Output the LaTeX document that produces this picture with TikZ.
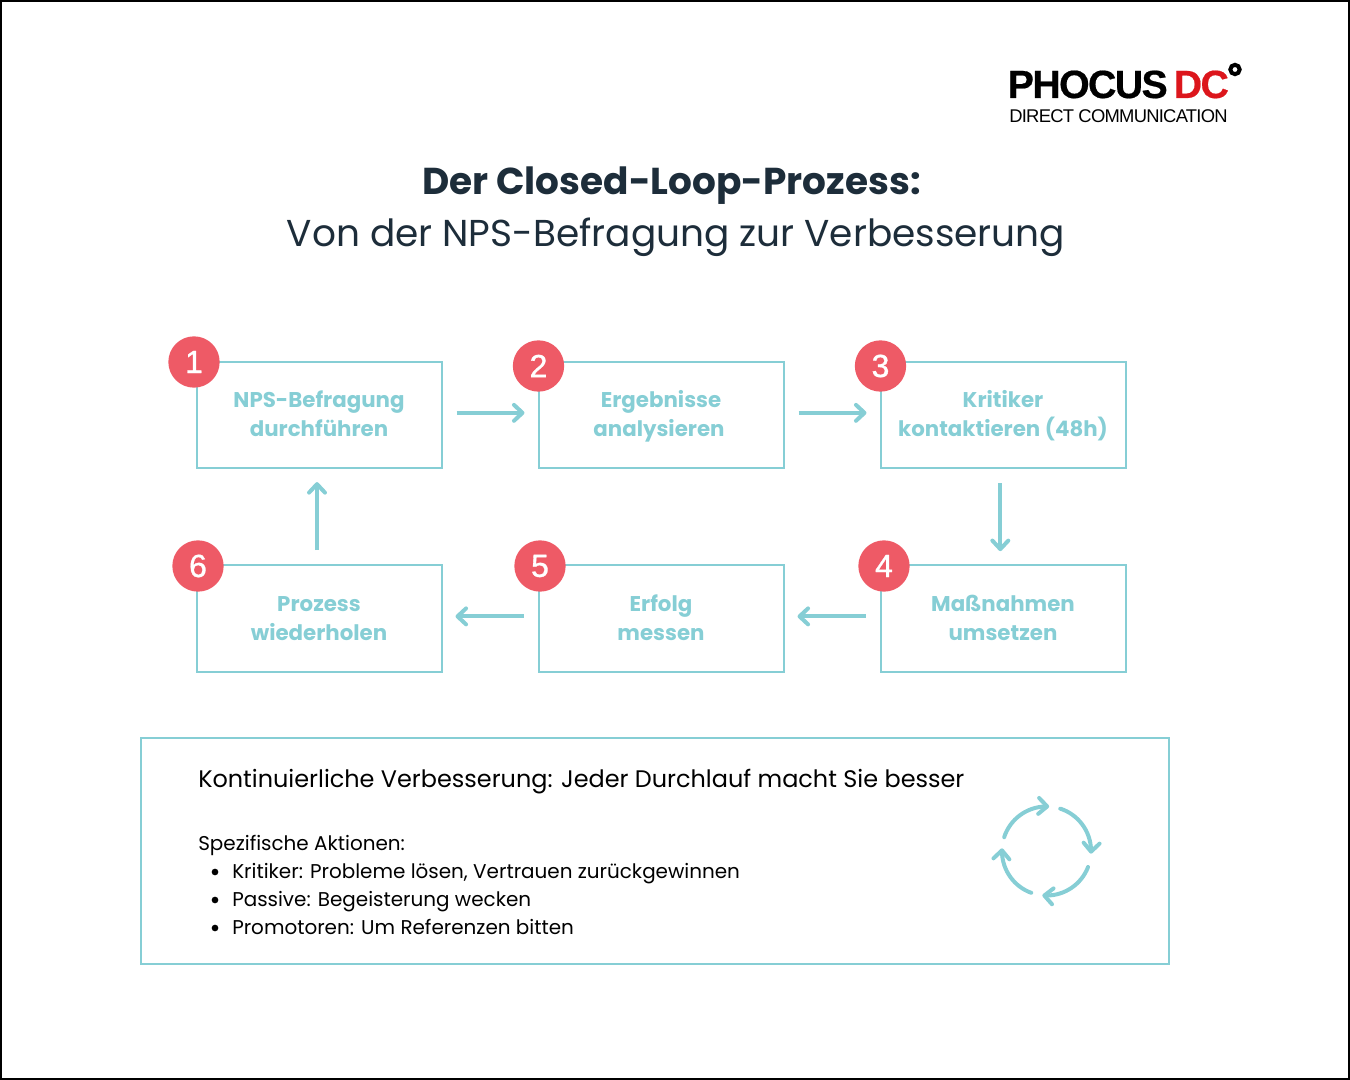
\documentclass[tikz,border=0pt]{standalone}
\usepackage{fontspec}
\setmainfont{Poppins}
\newfontfamily\logofont[LetterSpace=-4.2, BoldFeatures={FakeBold=0.5}]{Liberation Sans}
\newfontfamily\logosubfont[LetterSpace=-4.0]{Liberation Sans}
\newfontfamily\badgefont[FakeBold=1]{Liberation Sans}
\usepackage{tikz}
\usetikzlibrary{calc, positioning}
\usetikzlibrary{arrows.meta, bending}
\tikzset{>={Straight Barb[length=2.25mm,width=4.2mm,line width=3pt,round]}}
\definecolor{loopColor}{RGB}{134, 206, 213}
\definecolor{badgeColor}{RGB}{238, 90, 102}
\definecolor{titleColor}{RGB}{29, 45, 58}
\definecolor{logoRed}{RGB}{220, 22, 28}

\begin{document}
\begin{tikzpicture}[
    x=0.75pt, y=-0.75pt,
    node distance = 72.75pt,
    box/.style = {draw=loopColor, line width=1.5pt, minimum width=183.75pt, minimum height=79.9pt,
        align=center, text=loopColor, font=\fontsize{16}{21.75}\selectfont\bfseries,
        text height=39pt, text depth=6pt,
        outer sep=0pt, inner sep=0pt},
    badge/.style = {circle, fill=badgeColor, text=white, minimum size=38.5pt, inner sep=0pt,
        font=\badgefont\fontsize{24}{24}\selectfont},
    flow/.style = {->, draw=loopColor, line width=3pt, shorten >=10.5pt, shorten <=11.25pt},
    infotext/.style = {anchor=base west, inner sep=0pt, font=\fontsize{14.95}{15}\selectfont},
    cycle/.style = {->, draw=loopColor, line width=3pt, line cap=round, shorten >=1.5pt}
  ]
  \useasboundingbox (0,0) rectangle (1350,1080);
  \draw[line width=2.2pt] (1,1) rectangle (1349,1079);

  % logo
  \node[anchor=base west, inner sep=0pt, font=\logofont\fontsize{29.5}{29.5}\selectfont\bfseries] (LOGO) at (1007.5,98)
    {PHOCUS\hspace{-2.5pt} \textcolor{logoRed}{DC}};
  \node[anchor=base west, inner sep=0pt, font=\logosubfont\fontsize{13.8}{13.8}\selectfont] (SUB) at (1009,122.5)
    {DIRECT COMMUNICATION};
  \node[circle, draw=black, line width=3pt, minimum size=7pt, inner sep=0pt] (RING) at (1235,69.5) {};

  % title
  \node[anchor=base, inner sep=0pt, text=titleColor, font=\fontsize{28.08}{28}\selectfont\bfseries] (TITLE) at (671.5,195)
    {Der Closed-Loop-Prozess:};
  \node[anchor=base, inner sep=0pt, text=titleColor, font=\fontsize{28.08}{28}\selectfont] (SUBTITLE) at (676,247)
    {Von der NPS-Befragung zur Verbesserung};

  % process boxes
  \node[box] (B1) at (319,414.85) {NPS-Befragung\\durchführen};
  \node[box, right=of B1] (B2) {Ergebnisse\\analysieren\hspace*{3pt}};
  \node[box, right=of B2] (B3) {Kritiker\\kontaktieren (48h)};
  \node[box, below=of B3] (B4) {Maßnahmen\\umsetzen};
  \node[box, left=of B4] (B5) {Erfolg\\messen};
  \node[box, left=of B5] (B6) {Prozess\\wiederholen};

  \foreach \i/\x/\y in {1/194/362, 2/538.5/366, 3/880.5/366, 4/884/566, 5/540/566, 6/198/566}
  \node[badge] (N\i) at (\x,\y) {\i};

  \draw[flow] ([yshift=1.5pt]B1.east) -- ([yshift=1.5pt]B2.west);
  \draw[flow] ([yshift=1.5pt]B2.east) -- ([yshift=1.5pt]B3.west);
  \draw[flow] ([xshift=-2pt]B3.south) -- ([xshift=-2pt]B4.north);
  \draw[flow] ([yshift=1.5pt]B4.west) -- ([yshift=1.5pt]B5.east);
  \draw[flow] ([yshift=1.5pt]B5.west) -- ([yshift=1.5pt]B6.east);
  \draw[flow] ([xshift=-1.5pt]B6.north) -- ([xshift=-1.5pt]B1.south);

  % info panel
  \node[draw=loopColor, line width=1.4pt, minimum width=771pt, minimum height=170pt, inner sep=0pt] (PANEL) at (655,851) {};
  \node[infotext, font=\fontsize{17.95}{18}\selectfont] (HEAD) at (198,787) {Kontinuierliche Verbesserung: Jeder Durchlauf macht Sie besser};
  \node[infotext] (ACTIONS) at (198,850) {Spezifische Aktionen:};
  \foreach \t [count=\j from 0] in {{Kritiker: Probleme lösen, Vertrauen zurückgewinnen}, Passive: Begeisterung wecken, Promotoren: Um Referenzen bitten} {
    \node[infotext] (ITEM\j) at (232,878+28*\j) {\t};
    \node[circle, fill=black, minimum size=5pt, inner sep=0pt] (DOT\j) at (215,872+28*\j) {};
  }

  % cycle icon
  \coordinate (C) at (1046.5,851);
  \foreach \a/\b in {162/84, 72/-6, -21/-98, -110/-186}
  \draw[cycle] ($(C)+(\a:33.4pt)$) arc[start angle=\a, end angle=\b, radius=33.4pt];
\end{tikzpicture}
\end{document}
